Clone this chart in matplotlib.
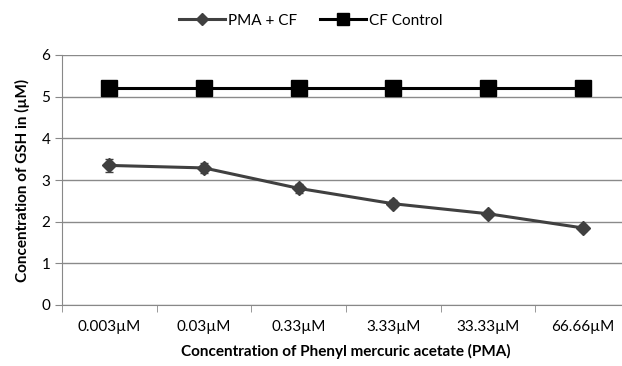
"""GSH concentration against phenyl mercuric acetate concentration."""

import matplotlib
matplotlib.use('Agg')
import matplotlib.pyplot as plt
from matplotlib.lines import Line2D
import numpy as np

categories = ['0.003µM', '0.03µM', '0.33µM', '3.33µM', '33.33µM', '66.66µM']
pma_cf = [3.35, 3.29, 2.80, 2.43, 2.19, 1.85]
pma_cf_err = [0.15, 0.12, 0.10, 0.08, 0.07, 0.07]
cf_control = [5.2, 5.2, 5.2, 5.2, 5.2, 5.2]


def main():

    plt.rcParams['font.family'] = ['Lato', 'DejaVu Sans']

    fig = plt.figure(figsize=(6.22, 3.66), dpi=100)
    ax = fig.add_axes([62 / 622, 61 / 366, 568 / 622, 250 / 366])

    x = np.arange(len(categories))

    ax.errorbar(x, pma_cf, yerr=pma_cf_err, color='#404040', lw=2.2,
                marker='D', markersize=7, capsize=3, elinewidth=1.2,
                zorder=3)
    ax.plot(x, cf_control, color='black', lw=2.2, marker='s',
            markersize=11, zorder=3)

    ax.set_xlim(-0.5, len(categories) - 0.5)
    ax.set_ylim(0, 6)
    ax.set_yticks(range(7))
    ax.set_xticks(x)
    ax.set_xticklabels(categories, fontsize=11)
    ax.set_xticks(np.arange(-0.5, len(categories)), minor=True)
    ax.tick_params(axis='x', which='major', length=0, pad=11)
    ax.tick_params(axis='x', which='minor', length=5, color='#888888')
    ax.tick_params(axis='y', labelsize=11, length=5, color='#888888')

    ax.grid(axis='y', color='#8a8a8a', lw=1)
    ax.set_axisbelow(True)
    for side in ['top', 'right']:
        ax.spines[side].set_visible(False)
    for side in ['left', 'bottom']:
        ax.spines[side].set_color('#888888')

    ax.set_xlabel('Concentration of Phenyl mercuric acetate (PMA)',
                  fontsize=11, fontweight='bold', labelpad=7)
    ax.set_ylabel('Concentration of GSH in (µM)', fontsize=11,
                  fontweight='bold', labelpad=8)

    handles = [
        Line2D([], [], color='#404040', lw=2.2, marker='D', markersize=6),
        Line2D([], [], color='black', lw=2.2, marker='s', markersize=9),
    ]
    fig.legend(handles, ['PMA + CF', 'CF Control'], loc='upper center',
               bbox_to_anchor=(0.5, 1.0), ncol=2, frameon=False,
               fontsize=11, handlelength=3, columnspacing=1.5,
               handletextpad=0.2)

    fig.savefig('out.png', dpi=100)


if __name__ == '__main__':
    main()
